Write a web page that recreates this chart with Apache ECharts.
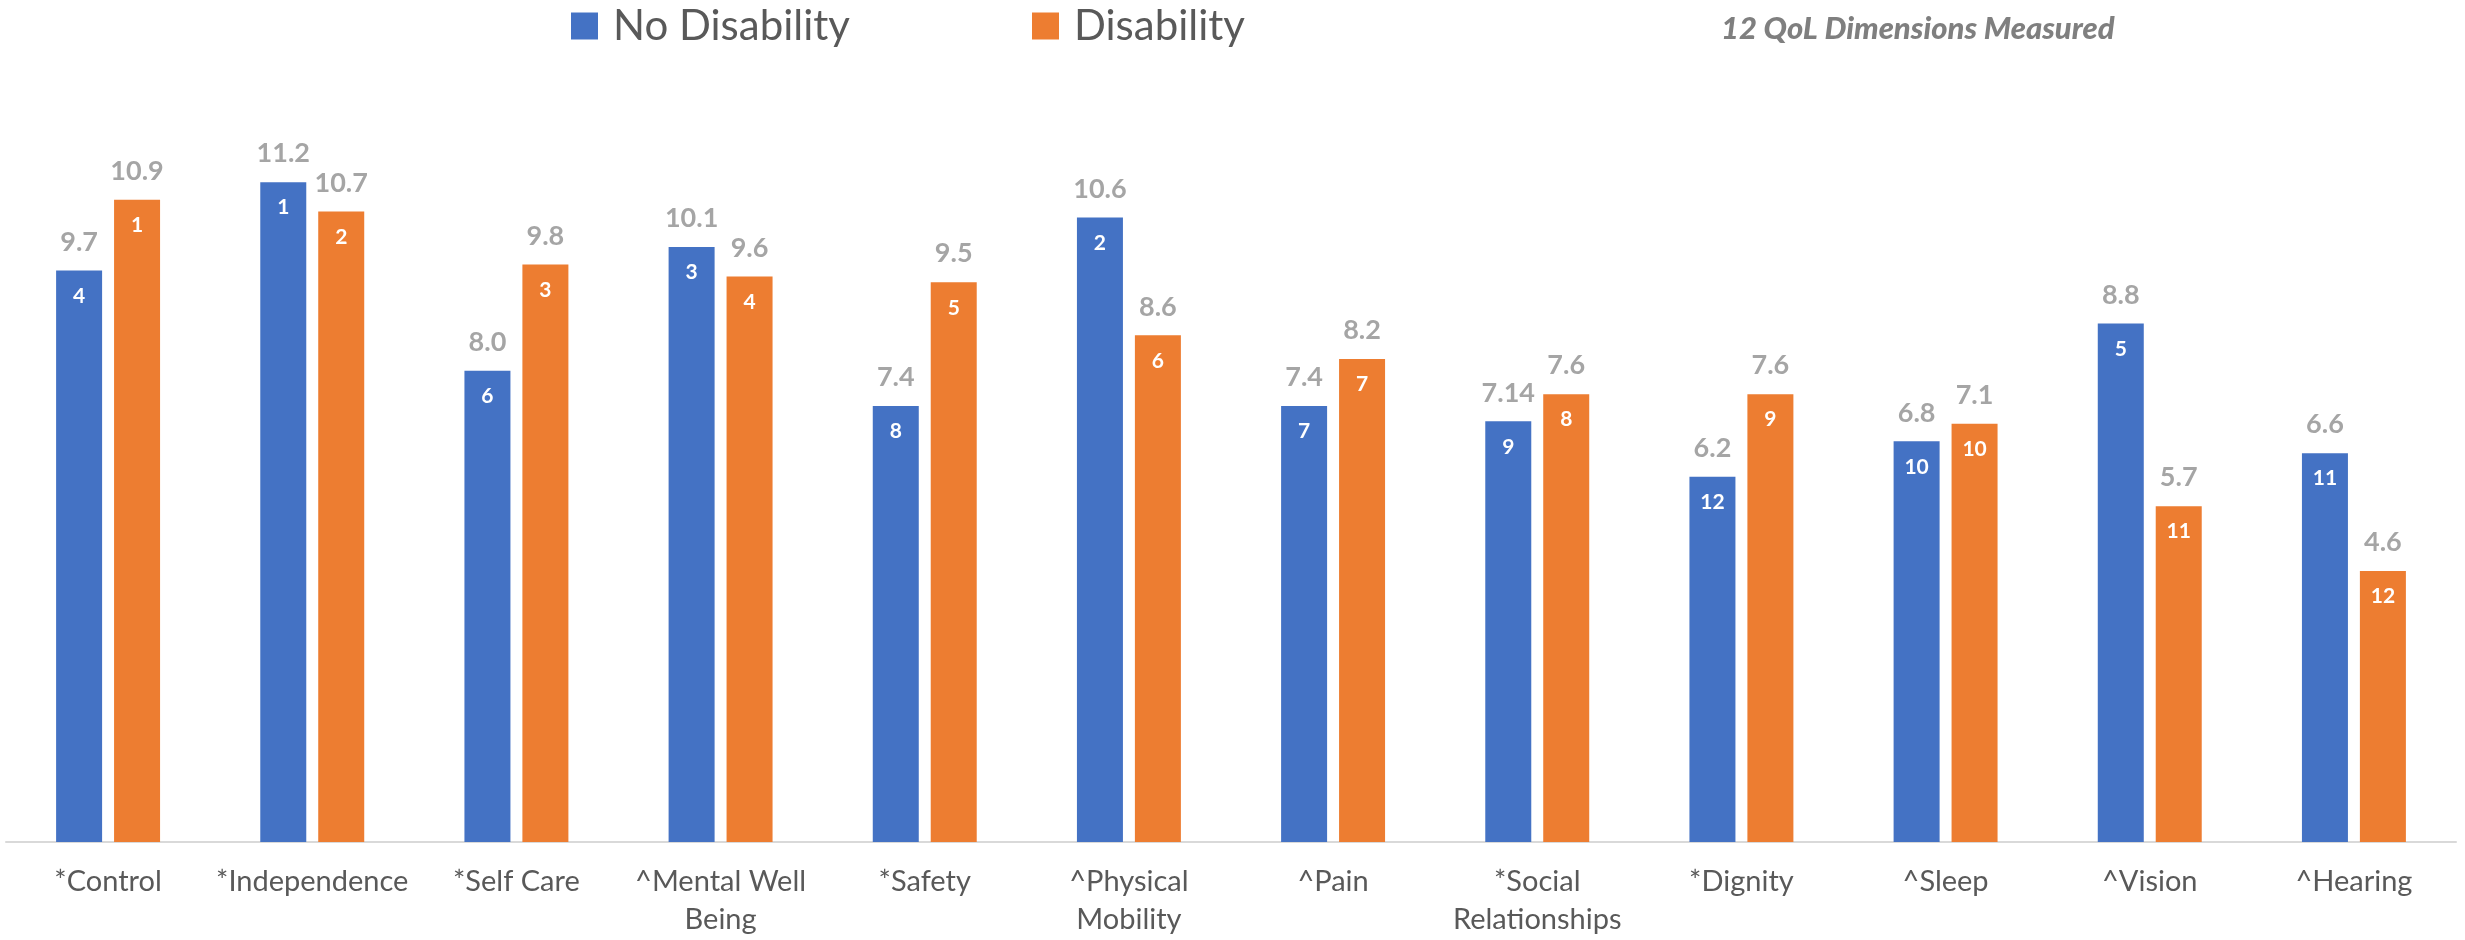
<!DOCTYPE html>
<html>
<head>
<meta charset="utf-8">
<title>12 QoL Dimensions Measured</title>
<script src="https://cdn.jsdelivr.net/npm/echarts@6/dist/echarts.min.js"></script>
<style>
  html, body { margin: 0; padding: 0; background: #ffffff; }
  #chart { width: 2465px; height: 940px; }
</style>
</head>
<body>
<div id="chart"></div>
<script>
// Quality-of-life dimensions (* / ^ prefixes kept as in the source labels)
const categories = [
  '*Control', '*Independence', '*Self Care', '^Mental Well\nBeing', '*Safety',
  '^Physical\nMobility', '^Pain', '*Social\nRelationships', '*Dignity',
  '^Sleep', '^Vision', '^Hearing'
];

// Mean scores per group
const noDisability = [9.7, 11.2, 8.0, 10.1, 7.4, 10.6, 7.4, 7.14, 6.2, 6.8, 8.8, 6.6];
const disability   = [10.9, 10.7, 9.8, 9.6, 9.5, 8.6, 8.2, 7.6, 7.6, 7.1, 5.7, 4.6];

// Rank of each dimension within its group
const noDisabilityRank = [4, 1, 6, 3, 8, 2, 7, 9, 12, 10, 5, 11];
const disabilityRank   = [1, 2, 3, 4, 5, 6, 7, 8, 9, 10, 11, 12];

const seriesNames = ['No Disability', 'Disability'];
const titleText = '12 QoL Dimensions Measured';

const BLUE = '#4472C4';
const ORANGE = '#ED7D31';
const FONT = 'Lato, "Open Sans", sans-serif';

function fmtValue(v) {
  const t = v * 10;
  return Math.abs(Math.round(t) - t) < 1e-9 ? v.toFixed(1) : String(v);
}

const barWidth = 46;
const barGap = '26%';

const valueLabel = {
  show: true,
  position: 'top',
  distance: 15,
  color: '#a5a5a5',
  fontFamily: FONT,
  fontWeight: 'bold',
  fontSize: 27,
  formatter: p => fmtValue(p.value)
};

function rankLabel(ranks) {
  return {
    show: true,
    position: 'insideTop',
    distance: 15,
    color: '#ffffff',
    fontFamily: FONT,
    fontWeight: 'bold',
    fontSize: 21,
    formatter: p => String(ranks[p.dataIndex])
  };
}

const chart = echarts.init(document.getElementById('chart'), null, { renderer: 'canvas' });

const legendText = {
  fontFamily: FONT,
  fontSize: 42,
  color: '#595959',
  padding: [0, 0, 0, 10]
};

chart.setOption({
  animation: false,
  backgroundColor: '#ffffff',
  title: {
    text: titleText,
    left: 1721,
    top: 13,
    padding: 0,
    textStyle: {
      fontFamily: FONT,
      fontStyle: 'italic',
      fontWeight: 900,
      fontSize: 31,
      color: '#7f7f7f'
    }
  },
  legend: [
    {
      data: [seriesNames[0]],
      left: 571, top: 5, padding: 0,
      icon: 'rect', itemWidth: 27, itemHeight: 27,
      textStyle: legendText,
      selectedMode: false
    },
    {
      data: [seriesNames[1]],
      left: 1032, top: 5, padding: 0,
      icon: 'rect', itemWidth: 27, itemHeight: 27,
      textStyle: legendText,
      selectedMode: false
    }
  ],
  grid: { left: 6, right: 9, top: 135, bottom: 98, containLabel: false },
  xAxis: [
    {
      type: 'category',
      data: categories,
      axisLine: { show: true, lineStyle: { color: '#d9d9d9', width: 2 } },
      axisTick: { show: false },
      axisLabel: {
        interval: 0,
        margin: 21,
        fontFamily: FONT,
        fontSize: 29,
        lineHeight: 38,
        color: '#595959'
      }
    },
    {
      // twin axis carrying the rank labels inside each bar
      type: 'category',
      data: categories,
      show: false,
      position: 'bottom'
    }
  ],
  yAxis: {
    type: 'value',
    min: 0,
    max: 12,
    show: false,
    splitLine: { show: false }
  },
  series: [
    {
      name: seriesNames[0],
      type: 'bar',
      xAxisIndex: 0,
      data: noDisability,
      barWidth: barWidth,
      barGap: barGap,
      itemStyle: { color: BLUE },
      label: valueLabel
    },
    {
      name: seriesNames[1],
      type: 'bar',
      xAxisIndex: 0,
      data: disability,
      barWidth: barWidth,
      barGap: barGap,
      itemStyle: { color: ORANGE },
      label: valueLabel
    },
    {
      name: 'No Disability rank',
      type: 'bar',
      xAxisIndex: 1,
      data: noDisability,
      barWidth: barWidth,
      barGap: barGap,
      itemStyle: { color: 'rgba(0,0,0,0)' },
      label: rankLabel(noDisabilityRank),
      silent: true
    },
    {
      name: 'Disability rank',
      type: 'bar',
      xAxisIndex: 1,
      data: disability,
      barWidth: barWidth,
      barGap: barGap,
      itemStyle: { color: 'rgba(0,0,0,0)' },
      label: rankLabel(disabilityRank),
      silent: true
    }
  ]
});
</script>
</body>
</html>
